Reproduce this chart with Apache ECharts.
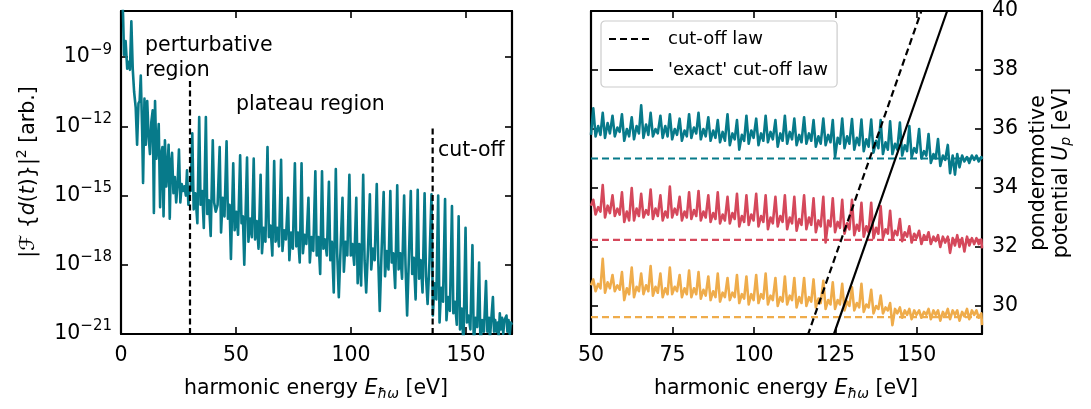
<!DOCTYPE html>
<html>
<head>
<meta charset="utf-8">
<script src="https://cdn.jsdelivr.net/npm/echarts@6/dist/echarts.min.js"></script>
<style>
  html, body { margin: 0; padding: 0; background: #ffffff; }
  #chart { width: 1091px; height: 409px; }
</style>
</head>
<body>
<div id="chart"></div>
<script>
// ---------- data ----------
// Harmonic spectrum for U_p = 35 eV: [photon energy (eV), log10 |F{d(t)}|^2]
const leftSpectrum = [
  [0.0, -5.0], [0.9, -7.2], [1.3, -8.9], [2.0, -8.3], [2.7, -9.5], [3.3, -9.2], [3.9, -9.55],
  [4.5, -7.45], [5.1, -9.5], [5.7, -10.5], [6.4, -11.2], [7.0, -12.8], [7.6, -11.0], [8.1, -10.9],
  [8.6, -9.8], [9.2, -12.2], [9.6, -14.45], [10.2, -10.8], [10.8, -12.8], [11.4, -10.9], [12.0, -12.4],
  [12.6, -13.2], [13.2, -11.8], [13.8, -11.3], [14.3, -15.75], [14.8, -10.9], [15.4, -13.4], [16.0, -12.6],
  [16.4, -11.9], [17.0, -15.5], [17.5, -13.2], [18.0, -12.9], [18.5, -15.9], [19.1, -12.6], [19.7, -14.6],
  [20.2, -13.8], [20.7, -12.8], [21.2, -16.0], [21.7, -13.6], [22.2, -13.15], [22.8, -14.9], [23.4, -14.2],
  [24.0, -15.3], [24.6, -14.5], [25.2, -13.0], [25.8, -15.3], [26.4, -14.5], [27.0, -14.8], [27.6, -14.6],
  [28.2, -15.0], [28.7, -13.9], [29.3, -15.4], [29.8, -14.7], [30.3, -14.8],
  [31.0, -12.3], [31.6, -15.6], [32.3, -14.9], [33.2, -16.2],
  [34.0, -11.6], [34.6, -15.4], [35.3, -14.8], [36.0, -16.4],
  [36.9, -11.6], [37.5, -15.8], [38.2, -15.2], [39.0, -16.75],
  [39.9, -12.6], [40.5, -15.3], [41.2, -15.7], [42.0, -15.4],
  [42.9, -12.9], [43.5, -16.6], [44.2, -15.1], [45.0, -15.9],
  [45.9, -12.65], [46.5, -16.0], [47.2, -15.4], [47.8, -17.75],
  [48.8, -13.6], [49.4, -16.5], [50.1, -15.7], [50.9, -16.7],
  [51.8, -13.25], [52.4, -16.2], [53.0, -15.9], [53.6, -18.0],
  [54.8, -13.35], [55.4, -17.0], [56.1, -16.0], [56.9, -16.8],
  [57.7, -13.4], [58.3, -16.9], [59.0, -16.1], [59.8, -17.3],
  [60.7, -14.1], [61.3, -17.5], [62.0, -16.4], [62.8, -17.0],
  [63.7, -12.9], [64.3, -16.8], [65.0, -16.3], [65.8, -17.6],
  [66.6, -13.5], [67.2, -17.0], [67.9, -16.4], [68.7, -17.2],
  [69.6, -13.45], [70.2, -17.4], [70.9, -16.5], [71.7, -16.9],
  [72.6, -15.1], [73.2, -17.8], [73.9, -16.6], [74.7, -17.3],
  [75.6, -13.6], [76.2, -17.2], [76.9, -16.6], [77.7, -17.9],
  [78.5, -13.6], [79.1, -17.5], [79.8, -16.7], [80.6, -17.1],
  [81.5, -15.1], [82.1, -17.9], [82.8, -16.8], [83.6, -17.4],
  [84.5, -13.95], [85.1, -17.6], [85.8, -16.8], [86.6, -18.4],
  [87.4, -13.95], [88.0, -17.3], [88.7, -16.9], [89.5, -17.6],
  [90.4, -14.4], [91.0, -17.8], [91.7, -17.0], [92.5, -19.2],
  [93.4, -13.85], [94.0, -17.5], [94.7, -19.4], [95.5, -17.2],
  [96.3, -15.1], [96.9, -18.3], [97.6, -17.0], [98.4, -17.6],
  [99.3, -14.1], [99.9, -17.6], [100.6, -17.1], [101.4, -18.0],
  [102.3, -15.1], [102.9, -18.8], [103.6, -17.1], [104.4, -18.9],
  [105.3, -14.1], [105.9, -17.8], [106.6, -19.2], [107.4, -17.3],
  [108.2, -14.95], [108.8, -18.2], [109.5, -17.3], [110.3, -17.8],
  [111.2, -14.5], [111.8, -17.6], [112.5, -20.0], [113.3, -17.4],
  [114.2, -14.85], [114.8, -18.5], [115.5, -17.4], [116.3, -18.2],
  [117.1, -14.8], [117.7, -17.9], [118.4, -17.5], [119.2, -19.0],
  [120.1, -14.55], [120.7, -18.2], [121.4, -17.5], [122.2, -18.6],
  [123.1, -15.0], [123.7, -18.0], [124.4, -20.2], [125.2, -17.6],
  [126.0, -14.8], [126.6, -18.4], [127.3, -17.7], [128.1, -19.5],
  [129.0, -14.75], [129.6, -18.6], [130.3, -17.8], [131.1, -19.2],
  [132.0, -14.9], [132.6, -18.5], [133.3, -19.7], [134.1, -17.9],
  [135.0, -14.95], [135.6, -20.2], [136.3, -18.8], [137.1, -19.5],
  [137.9, -15.0], [138.5, -20.5], [139.2, -19.0], [140.0, -19.6],
  [140.9, -15.15], [141.5, -20.4], [142.2, -19.4], [143.0, -20.0],
  [143.9, -15.45], [144.5, -20.1], [145.2, -19.6], [146.0, -20.6],
  [146.8, -15.9], [147.4, -20.8], [148.1, -19.9], [148.9, -21.4],
  [149.8, -16.4], [150.4, -20.5], [151.1, -20.2], [151.9, -20.8],
  [152.8, -17.15], [153.4, -21.5], [154.1, -20.3], [154.9, -20.7],
  [155.7, -17.9], [156.3, -21.6], [157.0, -20.4], [157.8, -20.9],
  [158.7, -18.7], [159.3, -20.9], [160.0, -20.3], [160.4, -21.2], [160.9, -20.5],
  [161.7, -19.4], [162.2, -20.9], [162.7, -20.4], [163.2, -20.9], [163.8, -20.5], [164.2, -21.1],
  [164.7, -20.1], [165.2, -20.8], [165.7, -20.3], [166.2, -21.0], [166.7, -20.4],
  [167.6, -20.2], [168.0, -20.9], [168.5, -20.4], [169.0, -21.0], [169.5, -20.5], [170.0, -20.6]
];

// Region markers in the left panel: [energy, log10 value]
const perturbativeMarker = [[30.0, -21], [30.0, -10]];
const cutoffMarker = [[135.5, -21], [135.5, -12]];

// Shared photon-energy samples (eV) for the three offset spectra
const upEnergy = [
  50.0,
  50.7, 51.4, 52.2, 52.9,   53.6, 54.3, 55.1, 55.8,   56.6, 57.3, 58.1, 58.8,
  59.5, 60.2, 61.0, 61.7,   62.5, 63.2, 64.0, 64.7,   65.4, 66.1, 66.9, 67.6,
  68.3, 69.0, 69.8, 70.5,   71.3, 72.0, 72.8, 73.5,   74.2, 74.9, 75.7, 76.4,
  77.2, 77.9, 78.7, 79.4,   80.1, 80.8, 81.6, 82.3,   83.0, 83.7, 84.5, 85.2,
  86.0, 86.7, 87.5, 88.2,   88.9, 89.6, 90.4, 91.1,   91.9, 92.6, 93.4, 94.1,
  94.8, 95.5, 96.3, 97.0,   97.7, 98.4, 99.2, 99.9,   100.7, 101.4, 102.2, 102.9,
  103.6, 104.3, 105.1, 105.8, 106.6, 107.3, 108.1, 108.8, 109.5, 110.2, 111.0, 111.7,
  112.4, 113.1, 113.9, 114.6, 115.4, 116.1, 116.9, 117.6, 118.3, 119.0, 119.8, 120.5,
  121.3, 122.0, 122.8, 123.5, 124.2, 124.9, 125.7, 126.4, 127.1, 127.8, 128.6, 129.3,
  130.1, 130.8, 131.6, 132.3, 133.0, 133.7, 134.5, 135.2, 136.0, 136.7, 137.5, 138.2,
  138.9, 139.6, 140.4, 141.1, 141.8, 142.5, 143.3, 144.0, 144.8, 145.5, 146.3, 147.0,
  147.7, 148.4, 149.2, 149.9, 150.7, 151.4, 152.2, 152.9, 153.6, 154.3, 155.1, 155.8,
  156.5, 157.2, 158.0, 158.7, 159.5, 160.2, 161.0, 161.7, 162.4, 163.1, 163.9, 164.6,
  165.4, 166.1, 166.9, 167.6, 168.3, 169.0, 169.8, 170.0
];

// Offset spectra, plotted on the U_p scale (eV)
const spectrumUp35 = [
  35.8,
  36.7, 35.75, 36.1, 35.8,    36.55, 35.7, 36.2, 35.85,   36.45, 35.75, 36.05, 35.9,
  36.5, 35.6, 36.0, 35.75,    36.4, 35.65, 36.1, 35.85,   36.8, 35.7, 36.15, 35.8,
  36.55, 35.75, 36.0, 35.85,  36.45, 35.7, 36.1, 35.75,   36.5, 35.65, 36.0, 35.8,
  36.35, 35.6, 35.95, 35.75,  36.5, 35.7, 36.05, 35.85,   36.55, 35.65, 36.0, 35.75,
  36.4, 35.6, 35.95, 35.7,    36.3, 35.55, 35.9, 35.6,    36.5, 35.45, 35.85, 35.65,
  36.3, 35.3, 35.8, 35.6,     36.45, 35.5, 35.95, 35.7,   36.35, 35.45, 35.85, 35.6,
  36.45, 35.55, 35.9, 35.65,  36.3, 35.4, 35.85, 35.6,    36.45, 35.5, 35.9, 35.65,
  36.35, 35.45, 35.8, 35.55,  36.4, 35.5, 35.85, 35.6,    36.3, 35.4, 35.75, 35.5,
  36.35, 35.45, 35.8, 35.55,  36.3, 35.05, 35.7, 35.5,    36.35, 35.35, 35.75, 35.5,
  36.34, 35.3, 35.7, 35.45,   36.32, 35.25, 35.65, 35.4,  36.32, 35.2, 35.6, 35.35,
  36.3, 35.15, 35.55, 35.3,   36.26, 35.15, 35.5, 35.3,   36.22, 35.1, 35.45, 35.25,
  36.1, 35.05, 35.35, 35.2,   36.0, 35.0, 35.25, 35.1,    35.83, 34.85, 35.15, 35.0,
  35.66, 34.75, 35.1, 34.95,  35.46, 34.5, 35.1, 34.45,   35.15, 34.7, 35.1, 34.9,
  35.05, 34.85, 35.1, 34.95,  35.1, 34.9, 35.05, 34.98
];
const spectrumUp32 = [
  33.4,
  33.6, 33.1, 33.35, 33.2,    34.1, 33.0, 33.4, 33.15,    33.75, 33.05, 33.3, 33.1,
  33.85, 32.85, 33.2, 32.9,   34.0, 32.9, 33.3, 33.05,    33.8, 33.0, 33.25, 33.1,
  33.95, 32.95, 33.3, 33.05,  33.75, 32.9, 33.2, 33.0,    34.05, 33.0, 33.3, 33.1,
  33.7, 32.9, 33.2, 33.0,     33.85, 32.95, 33.25, 33.05, 33.9, 32.9, 33.2, 33.0,
  33.75, 32.85, 33.15, 32.95, 33.85, 32.8, 33.1, 32.9,    33.7, 32.8, 33.15, 32.95,
  33.8, 32.7, 33.05, 32.85,   33.75, 32.75, 33.1, 32.9,   33.8, 32.7, 33.05, 32.85,
  33.75, 32.6, 33.0, 32.8,    33.7, 32.7, 33.05, 32.85,   33.75, 32.6, 33.0, 32.8,
  33.7, 32.55, 32.95, 32.75,  33.75, 32.6, 33.0, 32.75,   33.65, 32.5, 32.9, 32.7,
  33.7, 32.15, 32.9, 32.7,    33.65, 32.5, 32.85, 32.65,  33.6, 32.45, 32.8, 32.6,
  33.6, 32.4, 32.75, 32.55,   33.5, 32.35, 32.7, 32.5,    33.5, 32.3, 32.65, 32.45,
  33.38, 32.3, 32.6, 32.45,   33.23, 32.25, 32.55, 32.4,  32.95, 32.2, 32.5, 32.35,
  32.7, 32.15, 32.45, 32.3,   32.55, 32.1, 32.4, 32.25,   32.5, 32.1, 32.35, 32.2,
  32.4, 32.0, 32.35, 32.15,   32.35, 31.8, 32.3, 32.05,   32.4, 32.0, 32.3, 31.85,
  32.35, 32.05, 32.3, 32.1,   32.3, 32.1, 32.25, 31.95
];
const spectrumUp29 = [
  30.7,
  30.9, 30.5, 30.75, 30.6,    31.6, 30.45, 30.8, 30.6,    31.05, 30.5, 30.7, 30.55,
  31.15, 30.2, 30.6, 30.4,    31.3, 30.3, 30.65, 30.5,    31.1, 30.4, 30.7, 30.5,
  31.35, 30.35, 30.65, 30.45, 31.1, 30.3, 30.6, 30.4,     31.3, 30.4, 30.65, 30.5,
  31.05, 30.3, 30.6, 30.4,    31.2, 30.3, 30.6, 30.4,     31.15, 30.25, 30.55, 30.35,
  31.0, 30.2, 30.5, 30.3,     31.1, 30.15, 30.45, 30.3,   30.95, 30.2, 30.45, 30.3,
  31.05, 30.1, 30.4, 30.25,   31.0, 30.05, 30.4, 30.2,    31.05, 30.1, 30.4, 30.25,
  31.1, 30.05, 30.35, 30.2,   30.95, 30.0, 30.3, 30.15,   31.0, 30.05, 30.35, 30.2,
  30.95, 29.95, 30.3, 30.1,   30.95, 30.0, 30.3, 30.15,   30.9, 29.95, 30.25, 30.1,
  30.85, 29.9, 30.2, 30.05,   30.8, 29.9, 30.2, 30.05,    30.75, 29.85, 30.15, 30.0,
  30.63, 29.85, 30.1, 29.95,  30.75, 29.8, 30.05, 29.95,  30.55, 29.75, 30.0, 29.9,
  30.35, 29.75, 29.95, 29.85, 30.1, 29.35, 29.9, 29.75,   29.95, 29.6, 29.85, 29.7,
  29.9, 29.55, 29.85, 29.7,   29.85, 29.6, 29.8, 29.7,    29.9, 29.55, 29.85, 29.7,
  29.85, 29.5, 29.8, 29.65,   29.9, 29.55, 29.85, 29.7,   29.85, 29.5, 29.8, 29.65,
  29.9, 29.55, 29.85, 29.7,   29.85, 29.6, 29.75, 29.35
];

// Ponderomotive potentials used as the baselines (eV)
const upLevels = [35.0, 32.24, 29.62];

// Cut-off laws, endpoints [energy (eV), U_p (eV)]
const cutoffLaw = [[116.5, 29.0], [151.4, 40.0]];
const exactCutoffLaw = [[124.4, 29.0], [159.3, 40.0]];

// Tick values
const leftXTicks = [0, 50, 100, 150];
const leftYTicks = [-21, -18, -15, -12, -9];
const rightXTicks = [50, 75, 100, 125, 150];
const rightYTicks = [30, 32, 34, 36, 38, 40];

// ---------- styling ----------
const FONT = 'DejaVu Sans';
const TEAL = '#077a8a';
const RED = '#d5485b';
const GOLD = '#efac4b';
const INK = '#000000';
const SPEC_W = 2.6;
const DASH_W = 2.2;

const chart = echarts.init(document.getElementById('chart'), null, { renderer: 'canvas' });

function frameAxis(opts) {
  return Object.assign({
    type: 'value',
    axisLine: { show: true, onZero: false, lineStyle: { color: INK, width: 2.2 } },
    axisTick: { show: true, inside: true, length: 7, lineStyle: { color: INK, width: 1.6 }, customValues: opts.ticks },
    axisLabel: { show: false },
    splitLine: { show: false }
  }, opts.extra);
}

function tickLabels(values, extra) {
  return Object.assign({
    show: true, customValues: values, color: INK,
    fontFamily: FONT, fontSize: 20.5
  }, extra || {});
}

const zip = (xs, ys) => xs.map((x, i) => [x, ys[i]]);

function lineSeries(name, data, xi, yi, color, width, dash, z) {
  return {
    name: name, type: 'line', data: data,
    xAxisIndex: xi, yAxisIndex: yi,
    symbol: 'none', showSymbol: false, clip: true, silent: true,
    animation: false, z: z || 2,
    lineStyle: { color: color, width: width, type: dash || 'solid', join: 'round', cap: 'butt' },
    itemStyle: { color: color }
  };
}

const supRich = {
  b: { fontFamily: FONT, fontSize: 20.5, color: INK, lineHeight: 30 },
  s: { fontFamily: FONT, fontSize: 15, color: INK, verticalAlign: 'top', lineHeight: 15 }
};

const subRich = {
  i: { fontFamily: FONT, fontSize: 20.5, fontStyle: 'italic', lineHeight: 24 },
  s: { fontFamily: FONT, fontSize: 14, fontStyle: 'italic', verticalAlign: 'bottom', lineHeight: 14 }
};

const option = {
  backgroundColor: '#ffffff',
  animation: false,
  grid: [
    { left: 121, top: 11, width: 391, height: 323 },
    { left: 591, top: 11, width: 391, height: 323 }
  ],
  xAxis: [
    frameAxis({ ticks: leftXTicks, extra: {
      gridIndex: 0, position: 'bottom', min: 0, max: 170,
      axisLabel: tickLabels(leftXTicks, { margin: 11 })
    } }),
    frameAxis({ ticks: leftXTicks, extra: { gridIndex: 0, position: 'top', min: 0, max: 170 } }),
    frameAxis({ ticks: rightXTicks, extra: {
      gridIndex: 1, position: 'bottom', min: 50, max: 170,
      axisLabel: tickLabels(rightXTicks, { margin: 11 })
    } }),
    frameAxis({ ticks: rightXTicks, extra: { gridIndex: 1, position: 'top', min: 50, max: 170 } })
  ],
  yAxis: [
    frameAxis({ ticks: leftYTicks, extra: {
      gridIndex: 0, position: 'left', min: -21, max: -7,
      axisLabel: tickLabels(leftYTicks, {
        margin: 9,
        formatter: v => '{b|10}{s|\u2212' + Math.abs(Math.round(v)) + '}',
        rich: supRich
      })
    } }),
    frameAxis({ ticks: leftYTicks, extra: { gridIndex: 0, position: 'right', min: -21, max: -7 } }),
    frameAxis({ ticks: rightYTicks, extra: { gridIndex: 1, position: 'left', min: 29.05, max: 40 } }),
    frameAxis({ ticks: rightYTicks, extra: {
      gridIndex: 1, position: 'right', min: 29.05, max: 40,
      axisLabel: tickLabels(rightYTicks, { margin: 10 })
    } })
  ],
  legend: {
    left: 601, top: 21, orient: 'vertical',
    data: ['cut-off law', '\'exact\' cut-off law'],
    itemWidth: 44, itemHeight: 14, itemGap: 9,
    selectedMode: false,
    itemStyle: { opacity: 0 },
    backgroundColor: '#ffffff', borderColor: '#cccccc', borderWidth: 1.2, borderRadius: 4,
    padding: [7, 9, 6, 7],
    textStyle: { fontFamily: FONT, fontSize: 18, lineHeight: 22, color: INK, padding: [0, 0, 0, 10] }
  },
  series: [
    // left panel
    lineSeries('spectrum', leftSpectrum, 0, 0, TEAL, SPEC_W, 'solid', 2),
    lineSeries('perturbative', perturbativeMarker, 0, 0, INK, DASH_W, [6, 3.5], 3),
    lineSeries('cutoff', cutoffMarker, 0, 0, INK, DASH_W, [6, 3.5], 3),
    // right panel: baselines
    lineSeries('Up 35', [[50, upLevels[0]], [170, upLevels[0]]], 2, 2, TEAL, DASH_W, [7, 4], 2),
    lineSeries('Up 32', [[50, upLevels[1]], [170, upLevels[1]]], 2, 2, RED, DASH_W, [7, 4], 2),
    lineSeries('Up 29', [[50, upLevels[2]], [170, upLevels[2]]], 2, 2, GOLD, DASH_W, [7, 4], 2),
    // right panel: offset spectra
    lineSeries('spectrum 35', zip(upEnergy, spectrumUp35), 2, 2, TEAL, SPEC_W, 'solid', 3),
    lineSeries('spectrum 32', zip(upEnergy, spectrumUp32), 2, 2, RED, SPEC_W, 'solid', 3),
    lineSeries('spectrum 29', zip(upEnergy, spectrumUp29), 2, 2, GOLD, SPEC_W, 'solid', 3),
    // cut-off laws
    lineSeries('cut-off law', cutoffLaw, 2, 2, INK, DASH_W, [7, 4], 4),
    lineSeries('\'exact\' cut-off law', exactCutoffLaw, 2, 2, INK, DASH_W, 'solid', 4)
  ],
  graphic: [
    {
      type: 'text', left: 145, top: 33, silent: true,
      style: { text: 'perturbative\nregion', fontFamily: FONT, fontSize: 20.5, lineHeight: 25, fill: INK }
    },
    {
      type: 'text', left: 236, top: 94, silent: true,
      style: { text: 'plateau region', fontFamily: FONT, fontSize: 20.5, fill: INK }
    },
    {
      type: 'text', left: 438, top: 140, silent: true,
      style: { text: 'cut-off', fontFamily: FONT, fontSize: 20.5, fill: INK }
    },
    {
      type: 'text', x: 316, y: 389, silent: true,
      style: {
        text: 'harmonic energy {i|E}{s|\u0127\u03c9} [eV]',
        fontFamily: FONT, fontSize: 20.5, fill: INK, align: 'center', verticalAlign: 'middle',
        rich: subRich
      }
    },
    {
      type: 'text', x: 786, y: 389, silent: true,
      style: {
        text: 'harmonic energy {i|E}{s|\u0127\u03c9} [eV]',
        fontFamily: FONT, fontSize: 20.5, fill: INK, align: 'center', verticalAlign: 'middle',
        rich: subRich
      }
    },
    {
      type: 'text', x: 29, y: 172, rotation: Math.PI / 2, silent: true,
      style: {
        text: '|\u2131 {{i|d}({i|t})}|{s|2} [arb.]',
        fontFamily: FONT, fontSize: 20.5, fill: INK, align: 'center', verticalAlign: 'middle',
        rich: {
          i: { fontFamily: FONT, fontSize: 20.5, fontStyle: 'italic', lineHeight: 28 },
          s: { fontFamily: FONT, fontSize: 14, verticalAlign: 'top', lineHeight: 14 }
        }
      }
    },
    {
      type: 'text', x: 1050, y: 173, rotation: Math.PI / 2, silent: true,
      style: {
        text: 'ponderomotive\npotential {i|U}{s|p} [eV]',
        fontFamily: FONT, fontSize: 20.5, lineHeight: 23, fill: INK, align: 'center', verticalAlign: 'middle',
        rich: {
          i: { fontFamily: FONT, fontSize: 20.5, fontStyle: 'italic', lineHeight: 23 },
          s: { fontFamily: FONT, fontSize: 14, fontStyle: 'italic', verticalAlign: 'bottom', lineHeight: 17 }
        }
      }
    }
  ]
};

chart.setOption(option);
</script>
</body>
</html>
